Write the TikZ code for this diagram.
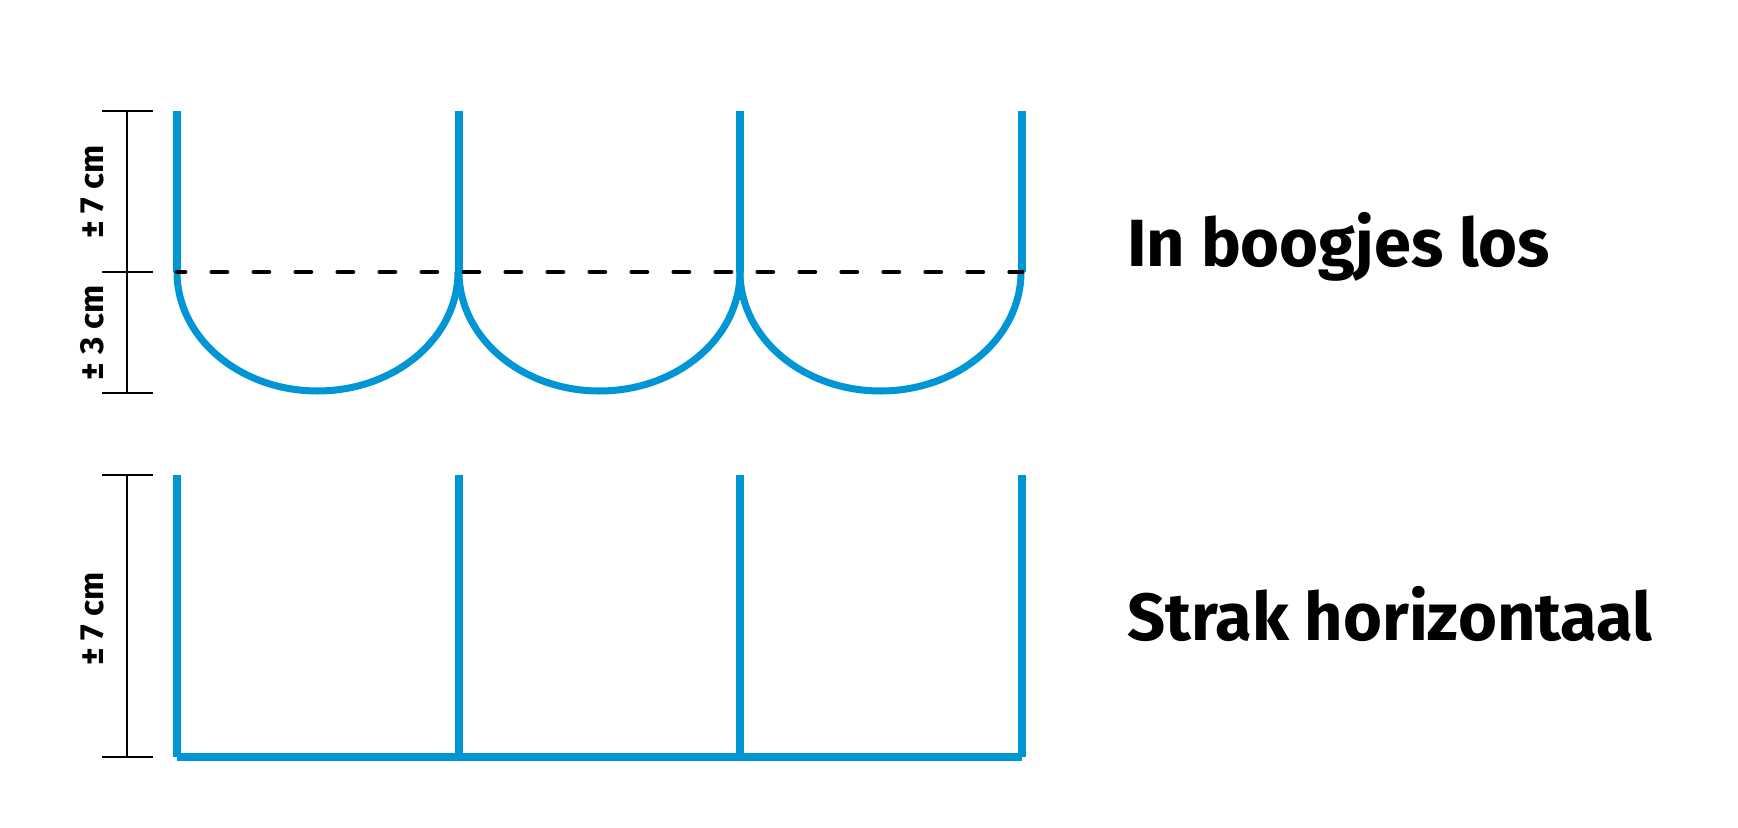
\documentclass[tikz,border=0pt]{standalone}
\usepackage{fontspec}
\setmainfont{Fira Sans}
\usepackage{xcolor}
\definecolor{wireblue}{RGB}{0,150,214}

\begin{document}
\begin{tikzpicture}[x=0.02cm, y=0.02cm,
    wire/.style={line width=4pt, wireblue},
    measure/.style={line width=1.1pt, black},
    sizelabel/.style={rotate=90, font=\bfseries\fontsize{19}{19}\selectfont},
    title/.style={anchor=base west, font=\bfseries\fontsize{38}{38}\selectfont}]
    \useasboundingbox (0,0) rectangle (1738,828);

    % Top frame: arcs hanging loose
    \foreach \x [count=\i] in {177,459,740,1022} {
        \coordinate (ta\i) at (\x,717);
        \coordinate (tm\i) at (\x,556);
        \draw[wire] (ta\i) -- (tm\i);
    }
    \foreach \i/\j in {1/2,2/3,3/4}
        \draw[wire] (tm\i) arc (180:360:140.5 and 119);
    \draw[line width=2.8pt, line cap=round, dash pattern=on 8.5pt off 15.4pt, dash phase=4pt] (tm1) -- (tm4);

    % Measure top
    \coordinate (ma) at (127,717);
    \coordinate (mb) at (127,556);
    \coordinate (mc) at (127,435);
    \draw[measure] (ma) -- (mc);
    \foreach \p in {ma,mb,mc}
        \draw[measure] ([xshift=-14]\p) -- ([xshift=15]\p);
    \node[sizelabel] (sevenA) at (92,636) {± 7 cm};
    \node[sizelabel] (three) at (92,495) {± 3 cm};

    % Bottom frame: straight
    \foreach \x [count=\i] in {177,459,740,1022} {
        \coordinate (ba\i) at (\x,353);
        \coordinate (bb\i) at (\x,71);
        \draw[wire] (ba\i) -- (bb\i);
    }
    \draw[wire] (bb1) -- (bb4);

    % Measure bottom
    \coordinate (md) at (127,353);
    \coordinate (me) at (127,71);
    \draw[measure] (md) -- (me);
    \foreach \p in {md,me}
        \draw[measure] ([xshift=-14]\p) -- ([xshift=15]\p);
    \node[sizelabel] (sevenB) at (92,209) {± 7 cm};

    % Titles
    \node[title] (loose) at (1121,561) {In boogjes los};
    \node[title] (tight) at (1121,187) {Strak horizontaal};
\end{tikzpicture}
\end{document}
